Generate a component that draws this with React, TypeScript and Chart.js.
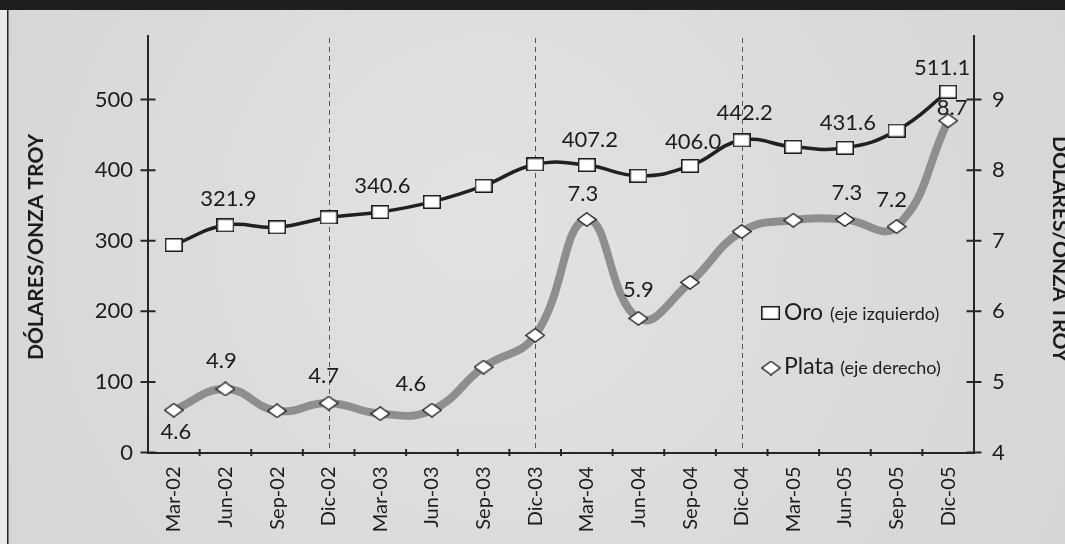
import { useEffect, useRef } from "react";
import { Chart, registerables } from "chart.js";

Chart.register(...registerables);

// Quarterly average prices, US$ per troy ounce
const quarters = [
  "Mar-02", "Jun-02", "Sep-02", "Dic-02",
  "Mar-03", "Jun-03", "Sep-03", "Dic-03",
  "Mar-04", "Jun-04", "Sep-04", "Dic-04",
  "Mar-05", "Jun-05", "Sep-05", "Dic-05",
];
const oroValues = [294, 321.9, 319, 333, 340.6, 355, 377.7, 408, 407.2, 392, 406.0, 442.2, 433, 431.6, 456, 511.1];
const plataValues = [4.6, 4.9, 4.59, 4.7, 4.55, 4.6, 5.21, 5.66, 7.3, 5.9, 6.41, 7.13, 7.29, 7.3, 7.2, 8.7];
const oroTicks = [0, 100, 200, 300, 400, 500];
const plataTicks = [4, 5, 6, 7, 8, 9];
const oroLabeled = [1, 4, 8, 10, 11, 13, 15];
const plataLabeled = [0, 1, 3, 5, 8, 9, 13, 14, 15];
const yearEnds = ["Dic-02", "Dic-03", "Dic-04"];

const FONT = "Lato, 'Open Sans', sans-serif";
const INK = "#1c1c1c";
const AXIS = "#262626";

// where each value label sits relative to its marker: [dx, dy] of the text centre
const oroLabelShift: Record<number, [number, number]> = {
  1: [3, -27], 4: [2, -27], 8: [3, -26], 10: [3, -25], 11: [3, -28], 13: [3, -26], 15: [-6, -25],
};
const plataLabelShift: Record<number, [number, number]> = {
  0: [2, 21], 1: [-4, -29], 3: [-5, -28], 5: [-21, -27], 8: [-4, -27], 9: [0, -29],
  13: [2, -28], 14: [-5, -28], 15: [4, -14],
};

function rectMarker(w: number, h: number) {
  const c = document.createElement("canvas");
  c.width = w;
  c.height = h;
  const g = c.getContext("2d")!;
  g.fillStyle = "#ffffff";
  g.fillRect(1, 1, w - 2, h - 2);
  g.strokeStyle = INK;
  g.lineWidth = 1.5;
  g.strokeRect(0.75, 0.75, w - 1.5, h - 1.5);
  return c;
}

function diamondMarker(w: number, h: number) {
  const c = document.createElement("canvas");
  c.width = w;
  c.height = h;
  const g = c.getContext("2d")!;
  g.beginPath();
  g.moveTo(w / 2, 0.8);
  g.lineTo(w - 0.8, h / 2);
  g.lineTo(w / 2, h - 0.8);
  g.lineTo(0.8, h / 2);
  g.closePath();
  g.fillStyle = "#ffffff";
  g.fill();
  g.strokeStyle = INK;
  g.lineWidth = 1.4;
  g.stroke();
  return c;
}

export default function App() {
  const canvasRef = useRef<HTMLCanvasElement | null>(null);

  useEffect(() => {
    const canvas = canvasRef.current;
    if (!canvas) return;

    const square = rectMarker(18, 14);
    const diamond = diamondMarker(20, 15);

    const backdrop = {
      id: "backdrop",
      beforeDraw(chart: any) {
        const { ctx, width, height } = chart;
        ctx.save();
        const grad = ctx.createRadialGradient(width * 0.45, height * 0.4, 50, width * 0.5, height * 0.5, width * 0.7);
        grad.addColorStop(0, "#e1e1e1");
        grad.addColorStop(1, "#d3d3d3");
        ctx.fillStyle = grad;
        ctx.fillRect(0, 0, width, height);
        ctx.fillStyle = "#e9e9e9";
        ctx.fillRect(0, 0, 7, height);
        ctx.fillStyle = "#222222";
        ctx.fillRect(7, 0, 1.5, height);
        ctx.fillStyle = "#1e1e1e";
        ctx.fillRect(0, 0, width, 10);
        ctx.restore();
      },
    };

    const frame = {
      id: "frame",
      beforeDatasetsDraw(chart: any) {
        const { ctx, chartArea, scales } = chart;
        const x = scales.x;
        const yl = scales.yOro;
        const yr = scales.yPlata;
        ctx.save();
        // dashed year separators
        ctx.strokeStyle = "#555555";
        ctx.lineWidth = 1;
        ctx.setLineDash([5, 4]);
        for (const q of yearEnds) {
          const px = Math.round(x.getPixelForValue(quarters.indexOf(q))) + 0.5;
          ctx.beginPath();
          ctx.moveTo(px, chartArea.top + 2);
          ctx.lineTo(px, chartArea.bottom);
          ctx.stroke();
        }
        ctx.setLineDash([]);
        // tick marks crossing the axes
        ctx.strokeStyle = AXIS;
        ctx.lineWidth = 2;
        ctx.beginPath();
        for (const v of oroTicks) {
          const py = yl.getPixelForValue(v);
          ctx.moveTo(chartArea.left - 7.5, py);
          ctx.lineTo(chartArea.left + 7.5, py);
        }
        for (const v of plataTicks) {
          const py = yr.getPixelForValue(v);
          ctx.moveTo(chartArea.right - 7.5, py);
          ctx.lineTo(chartArea.right + 7.5, py);
        }
        for (let i = 1; i < quarters.length; i++) {
          const px = x.getPixelForValue(i - 0.5);
          ctx.moveTo(px, chartArea.bottom - 3.5);
          ctx.lineTo(px, chartArea.bottom + 3.5);
        }
        ctx.stroke();
        ctx.restore();
      },
    };

    const valueLabels = {
      id: "valueLabels",
      afterDatasetsDraw(chart: any) {
        const { ctx } = chart;
        ctx.save();
        ctx.font = `22px ${FONT}`;
        ctx.fillStyle = INK;
        ctx.textAlign = "center";
        ctx.textBaseline = "alphabetic";
        const draw = (dsIndex: number, values: number[], idxs: number[], shift: Record<number, [number, number]>) => {
          const meta = chart.getDatasetMeta(dsIndex);
          for (const i of idxs) {
            const pt = meta.data[i];
            const [dx, dy] = shift[i] || [0, -27];
            ctx.fillText(values[i].toFixed(1), pt.x + dx, pt.y + dy + 8);
          }
        };
        draw(0, oroValues, oroLabeled, oroLabelShift);
        draw(1, plataValues, plataLabeled, plataLabelShift);
        ctx.restore();
      },
      afterDraw(chart: any) {
        const { ctx, chartArea, width } = chart;
        ctx.save();
        // legend
        const lx = chartArea.right - 216;
        const row1 = chartArea.top + 277;
        const row2 = chartArea.top + 332;
        ctx.drawImage(square, lx + 3, row1 - 7, 19, 14);
        ctx.drawImage(diamond, lx + 3, row2 - 7.5);
        ctx.fillStyle = INK;
        ctx.textAlign = "left";
        ctx.textBaseline = "alphabetic";
        ctx.font = `23px ${FONT}`;
        ctx.fillText("Oro", lx + 26, row1 + 7);
        const oroW = ctx.measureText("Oro").width;
        ctx.fillText("Plata", lx + 26, row2 + 6);
        const plataW = ctx.measureText("Plata").width;
        ctx.font = `18px ${FONT}`;
        ctx.fillText("(eje izquierdo)", lx + 26 + oroW + 7, row1 + 7);
        ctx.fillText("(eje derecho)", lx + 26 + plataW + 6, row2 + 6);
        // axis titles
        ctx.font = `bold 21px ${FONT}`;
        ctx.textAlign = "center";
        ctx.textBaseline = "middle";
        ctx.save();
        ctx.translate(36, 247);
        ctx.rotate(-Math.PI / 2);
        ctx.fillText("DÓLARES/ONZA TROY", 0, 0);
        ctx.restore();
        ctx.save();
        ctx.translate(width - 5, 249);
        ctx.rotate(Math.PI / 2);
        ctx.fillText("DÓLARES/ONZA TROY", 0, 0);
        ctx.restore();
        ctx.restore();
      },
    };

    const chart = new Chart(canvas, {
      type: "line",
      data: {
        labels: quarters,
        datasets: [
          {
            label: "Oro",
            data: oroValues,
            yAxisID: "yOro",
            borderColor: "#231f20",
            borderWidth: 3.5,
            tension: 0.45,
            pointStyle: square as any,
            pointRadius: 8,
            fill: false,
          },
          {
            label: "Plata",
            data: plataValues,
            yAxisID: "yPlata",
            borderColor: "#8e8e90",
            borderWidth: 8,
            tension: 0.45,
            pointStyle: diamond as any,
            pointRadius: 8,
            fill: false,
          },
        ],
      },
      options: {
        responsive: false,
        animation: false,
        devicePixelRatio: 1,
        layout: { padding: { top: 36, left: 0, right: 0, bottom: 0 } },
        plugins: {
          legend: { display: false },
          tooltip: { enabled: false },
        },
        scales: {
          x: {
            type: "category",
            offset: true,
            grid: { display: false, drawTicks: false },
            border: { display: true, color: AXIS, width: 2 },
            ticks: {
              autoSkip: false,
              minRotation: 90,
              maxRotation: 90,
              padding: 14,
              color: INK,
              font: { family: FONT, size: 20 },
            },
            afterFit(s: any) {
              s.height = 91.5;
            },
          },
          yOro: {
            type: "linear",
            position: "left",
            min: 0,
            max: 590,
            grid: { display: false, drawTicks: false },
            border: { display: true, color: AXIS, width: 2 },
            ticks: { padding: 15, color: INK, font: { family: FONT, size: 22 } },
            afterBuildTicks(s: any) {
              s.ticks = oroTicks.map((v) => ({ value: v }));
            },
            afterFit(s: any) {
              s.width = 148;
            },
          },
          yPlata: {
            type: "linear",
            position: "right",
            min: 4,
            max: 9.9,
            grid: { display: false, drawTicks: false },
            border: { display: true, color: AXIS, width: 2 },
            ticks: { padding: 18, color: INK, font: { family: FONT, size: 22 } },
            afterBuildTicks(s: any) {
              s.ticks = plataTicks.map((v) => ({ value: v }));
            },
            afterFit(s: any) {
              s.width = 91;
            },
          },
        },
      },
      plugins: [backdrop, frame, valueLabels],
    });

    return () => chart.destroy();
  }, []);

  return (
    <div style={{ position: "fixed", left: 0, top: 0, width: 1065, height: 544 }}>
      <canvas ref={canvasRef} width={1065} height={544} style={{ display: "block" }} />
    </div>
  );
}
